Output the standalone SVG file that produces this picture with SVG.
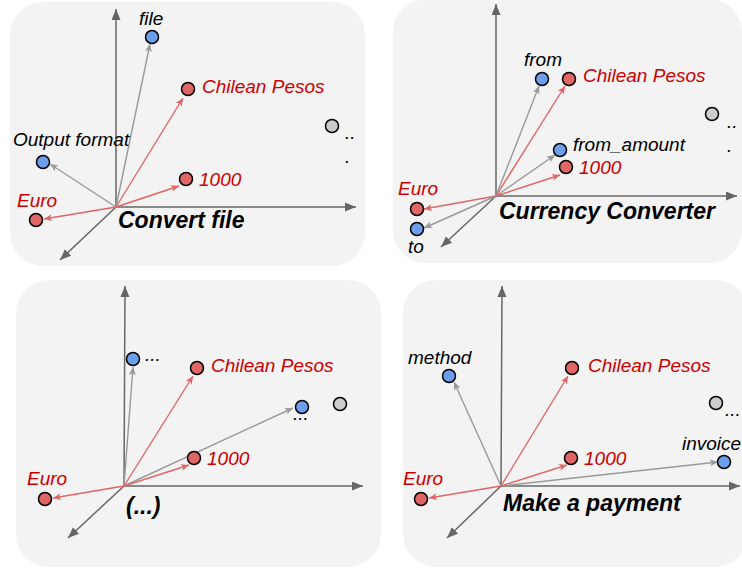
<svg xmlns="http://www.w3.org/2000/svg" width="742" height="568" viewBox="0 0 742 568">
<style>
.panel{fill:#f3f3f3}
.axis{stroke:#666;stroke-width:1.5;fill:none;marker-end:url(#ah)}
.vg{stroke:#999;stroke-width:1.4;fill:none;marker-end:url(#agray)}
.vr{stroke:#e06666;stroke-width:1.4;fill:none;marker-end:url(#ared)}
.nb{fill:#6d9eeb;stroke:#000;stroke-width:1.5}
.nr{fill:#e06666;stroke:#000;stroke-width:1.5}
.ng{fill:#cccccc;stroke:#000;stroke-width:1.5}
text{font-family:"Liberation Sans",Arial,sans-serif;font-style:italic;font-size:19px;fill:#000}
.red{fill:#cc0000}
.title{font-weight:bold;font-size:23px}
</style>
<defs>
<marker id="ah" markerUnits="userSpaceOnUse" markerWidth="12" markerHeight="10" refX="11" refY="4.5" orient="auto"><path d="M0,0 L11,4.5 L0,9 z" fill="#666"/></marker>
<marker id="agray" markerUnits="userSpaceOnUse" markerWidth="10" markerHeight="8" refX="8" refY="3.5" orient="auto"><path d="M0,0 L8,3.5 L0,7 L2,3.5 z" fill="#999"/></marker>
<marker id="ared" markerUnits="userSpaceOnUse" markerWidth="10" markerHeight="8" refX="8" refY="3.5" orient="auto"><path d="M0,0 L8,3.5 L0,7 L2,3.5 z" fill="#e06666"/></marker>
</defs>

<g id="panels">
<rect class="panel" x="10" y="2" width="355" height="264" rx="33"/>
<rect class="panel" x="393" y="-1" width="349" height="264" rx="33"/>
<rect class="panel" x="16" y="280" width="365" height="287" rx="33"/>
<rect class="panel" x="403" y="280" width="345" height="287" rx="33"/>
</g>

<g id="connectors">
<!-- panel 1 -->
<line class="axis" x1="116" y1="207" x2="116" y2="9"/>
<line class="axis" x1="116" y1="207" x2="356" y2="207"/>
<line class="axis" x1="116" y1="207" x2="60" y2="260"/>
<line class="vg" x1="116" y1="207" x2="150" y2="44"/>
<line class="vr" x1="116" y1="207" x2="183" y2="98"/>
<line class="vg" x1="116" y1="207" x2="50" y2="164"/>
<line class="vr" x1="116" y1="207" x2="179" y2="186"/>
<line class="vr" x1="116" y1="207" x2="44" y2="219"/>
<!-- panel 2 -->
<line class="axis" x1="496" y1="196" x2="496" y2="4"/>
<line class="axis" x1="496" y1="196" x2="737" y2="196"/>
<line class="axis" x1="496" y1="196" x2="441" y2="247"/>
<line class="vg" x1="496" y1="196" x2="539" y2="86"/>
<line class="vr" x1="496" y1="196" x2="565" y2="86"/>
<line class="vg" x1="496" y1="196" x2="555" y2="155"/>
<line class="vr" x1="496" y1="196" x2="560" y2="175"/>
<line class="vr" x1="496" y1="196" x2="424" y2="209"/>
<line class="vg" x1="496" y1="196" x2="424" y2="228"/>
<!-- panel 3 -->
<line class="axis" x1="124" y1="486" x2="125" y2="286"/>
<line class="axis" x1="124" y1="486" x2="363" y2="486"/>
<line class="axis" x1="124" y1="486" x2="68" y2="538"/>
<line class="vg" x1="124" y1="486" x2="133" y2="367"/>
<line class="vr" x1="124" y1="486" x2="193" y2="376"/>
<line class="vg" x1="124" y1="486" x2="293" y2="408"/>
<line class="vr" x1="124" y1="486" x2="189" y2="465"/>
<line class="vr" x1="124" y1="486" x2="53" y2="498"/>
<!-- panel 4 -->
<line class="axis" x1="501" y1="486" x2="502" y2="286"/>
<line class="axis" x1="501" y1="486" x2="740" y2="486"/>
<line class="axis" x1="501" y1="486" x2="447" y2="538"/>
<line class="vg" x1="501" y1="486" x2="454" y2="382"/>
<line class="vr" x1="501" y1="486" x2="568" y2="376"/>
<line class="vg" x1="501" y1="486" x2="718" y2="462"/>
<line class="vr" x1="501" y1="486" x2="567" y2="465"/>
<line class="vr" x1="501" y1="486" x2="429" y2="498"/>
</g>

<!-- panel 1 nodes -->
<g id="p1-file"><circle class="nb" cx="152" cy="37" r="6.5"/><text x="139" y="25">file</text></g>
<g id="p1-chilean"><circle class="nr" cx="188" cy="89" r="6.5"/><text class="red" x="202" y="93">Chilean Pesos</text></g>
<g id="p1-output"><circle class="nb" cx="43" cy="162" r="6.5"/><text x="13" y="146">Output format</text></g>
<g id="p1-1000"><circle class="nr" cx="186" cy="179" r="6.5"/><text class="red" x="199" y="186">1000</text></g>
<g id="p1-euro"><circle class="nr" cx="36" cy="220" r="6.5"/><text class="red" x="17" y="207">Euro</text></g>
<g id="p1-more"><circle class="ng" cx="332" cy="126" r="6.5"/><text x="345" y="139">..</text><text x="345" y="163">.</text></g>
<g id="p1-title"><text class="title" x="118" y="228">Convert file</text></g>

<!-- panel 2 nodes -->
<g id="p2-from"><circle class="nb" cx="542" cy="79" r="6.5"/><text x="524" y="66">from</text></g>
<g id="p2-chilean"><circle class="nr" cx="569" cy="79" r="6.5"/><text class="red" x="583" y="82">Chilean Pesos</text></g>
<g id="p2-more"><circle class="ng" cx="712" cy="114" r="6.5"/><text x="727" y="128">..</text><text x="727" y="152">.</text></g>
<g id="p2-fromamount"><circle class="nb" cx="560" cy="150" r="6.5"/><text x="573" y="151">from_amount</text></g>
<g id="p2-1000"><circle class="nr" cx="566" cy="167" r="6.5"/><text class="red" x="579" y="174">1000</text></g>
<g id="p2-euro"><circle class="nr" cx="417" cy="209" r="6.5"/><text class="red" x="398" y="195">Euro</text></g>
<g id="p2-to"><circle class="nb" cx="417" cy="229" r="6.5"/><text x="408" y="253">to</text></g>
<g id="p2-title"><text class="title" x="499" y="219">Currency Converter</text></g>

<!-- panel 3 nodes -->
<g id="p3-dots1"><circle class="nb" cx="133" cy="359" r="6.5"/><text x="145" y="361">...</text></g>
<g id="p3-chilean"><circle class="nr" cx="197" cy="368" r="6.5"/><text class="red" x="211" y="372">Chilean Pesos</text></g>
<g id="p3-dots2"><circle class="nb" cx="302" cy="407" r="6.5"/><text x="293" y="420">...</text></g>
<g id="p3-more"><circle class="ng" cx="340" cy="404" r="6.5"/></g>
<g id="p3-1000"><circle class="nr" cx="194" cy="458" r="6.5"/><text class="red" x="207" y="465">1000</text></g>
<g id="p3-euro"><circle class="nr" cx="45" cy="499" r="6.5"/><text class="red" x="27" y="485">Euro</text></g>
<g id="p3-title"><text class="title" x="126" y="514">(...)</text></g>

<!-- panel 4 nodes -->
<g id="p4-method"><circle class="nb" cx="449" cy="376" r="6.5"/><text x="408" y="364">method</text></g>
<g id="p4-chilean"><circle class="nr" cx="572" cy="368" r="6.5"/><text class="red" x="588" y="372">Chilean Pesos</text></g>
<g id="p4-more"><circle class="ng" cx="716" cy="403" r="6.5"/><text x="725" y="416">...</text></g>
<g id="p4-invoice"><circle class="nb" cx="724" cy="462" r="6.5"/><text x="682" y="450">invoice</text></g>
<g id="p4-1000"><circle class="nr" cx="571" cy="458" r="6.5"/><text class="red" x="584" y="465">1000</text></g>
<g id="p4-euro"><circle class="nr" cx="421" cy="499" r="6.5"/><text class="red" x="403" y="485">Euro</text></g>
<g id="p4-title"><text class="title" x="503" y="511">Make a payment</text></g>
</svg>
